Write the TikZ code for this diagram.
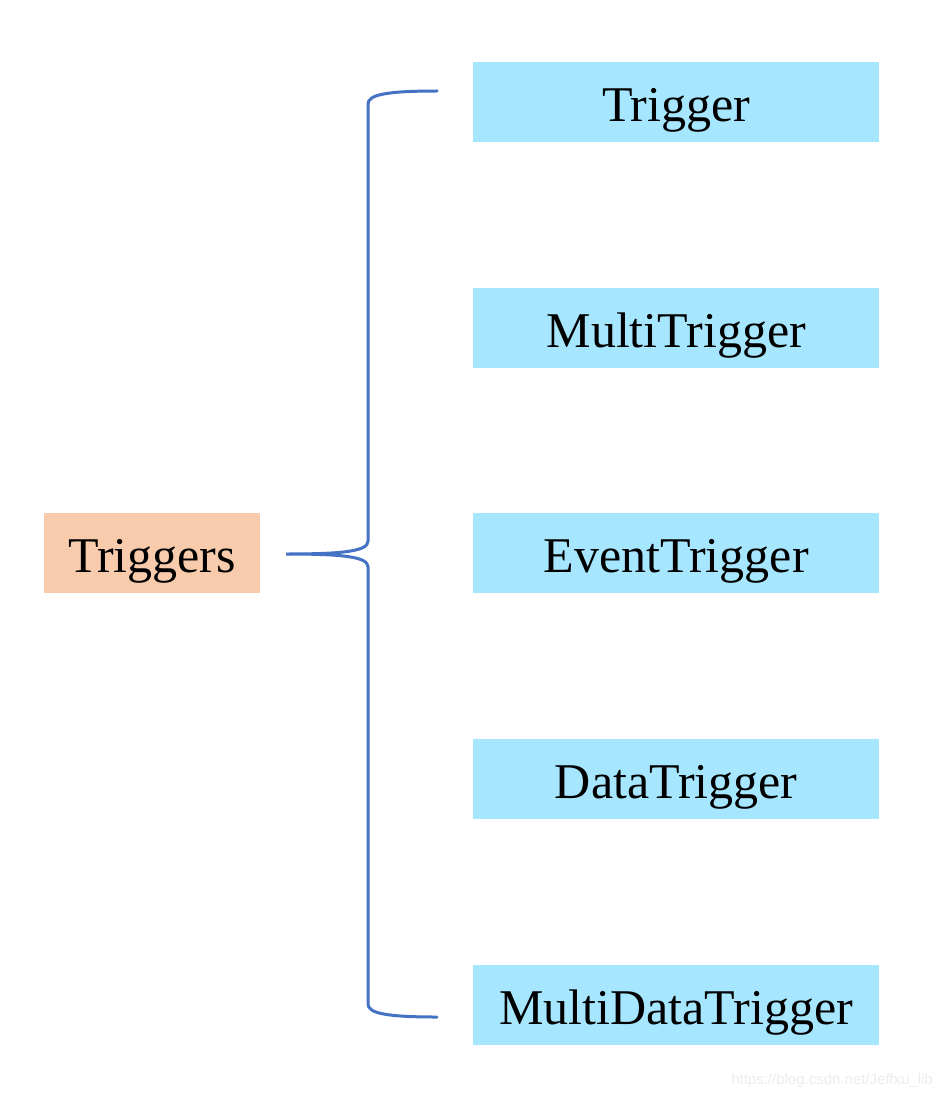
\documentclass[tikz,border=0pt]{standalone}
\usepackage{fontspec}
\setmainfont{Liberation Serif}
\newfontfamily\wmfont{Liberation Sans}
\definecolor{peach}{HTML}{F8CBAD}
\definecolor{skyb}{HTML}{A6E6FF}
\definecolor{bracec}{HTML}{4472C4}
\definecolor{wmgray}{HTML}{EDEDED}
\begin{document}
\begin{tikzpicture}[x=1pt,y=-1pt,
  box/.style={anchor=north west, inner sep=0pt, font=\fontsize{50}{54}\selectfont, text=black, text height=59pt, text depth=21pt},
  blue box/.style={box, fill=skyb, minimum width=406pt},
  brace line/.style={draw=bracec, line width=3pt, line cap=round}]
\useasboundingbox[fill=white] (0,0) rectangle (943,1099);
\node[box, fill=peach, minimum width=216pt] (trig) at (44,513) {Triggers};
\node[blue box] (t1) at (473,62) {Trigger};
\node[blue box] (t2) at (473,288) {MultiTrigger};
\node[blue box] (t3) at (473,513) {EventTrigger};
\node[blue box] (t4) at (473,739) {DataTrigger};
\node[blue box] (t5) at (473,965) {MultiDataTrigger};
\coordinate (btop) at (437,91);
\coordinate (btip) at (286,554);
\coordinate (bbot) at (437,1017);
\draw[brace line] (btop) .. controls (385,91) and (368,95) .. (368,104)
  -- (368,541) .. controls (368,551) and (345,554) .. (btip)
  .. controls (345,554) and (368,557) .. (368,567)
  -- (368,1004) .. controls (368,1013) and (385,1017) .. (bbot);
\node[anchor=east, inner sep=0pt, text=wmgray, font=\wmfont\fontsize{15}{17}\selectfont] (wm) at (933,1081) {https://blog.csdn.net/Jeffxu\_lib};
\end{tikzpicture}
\end{document}
